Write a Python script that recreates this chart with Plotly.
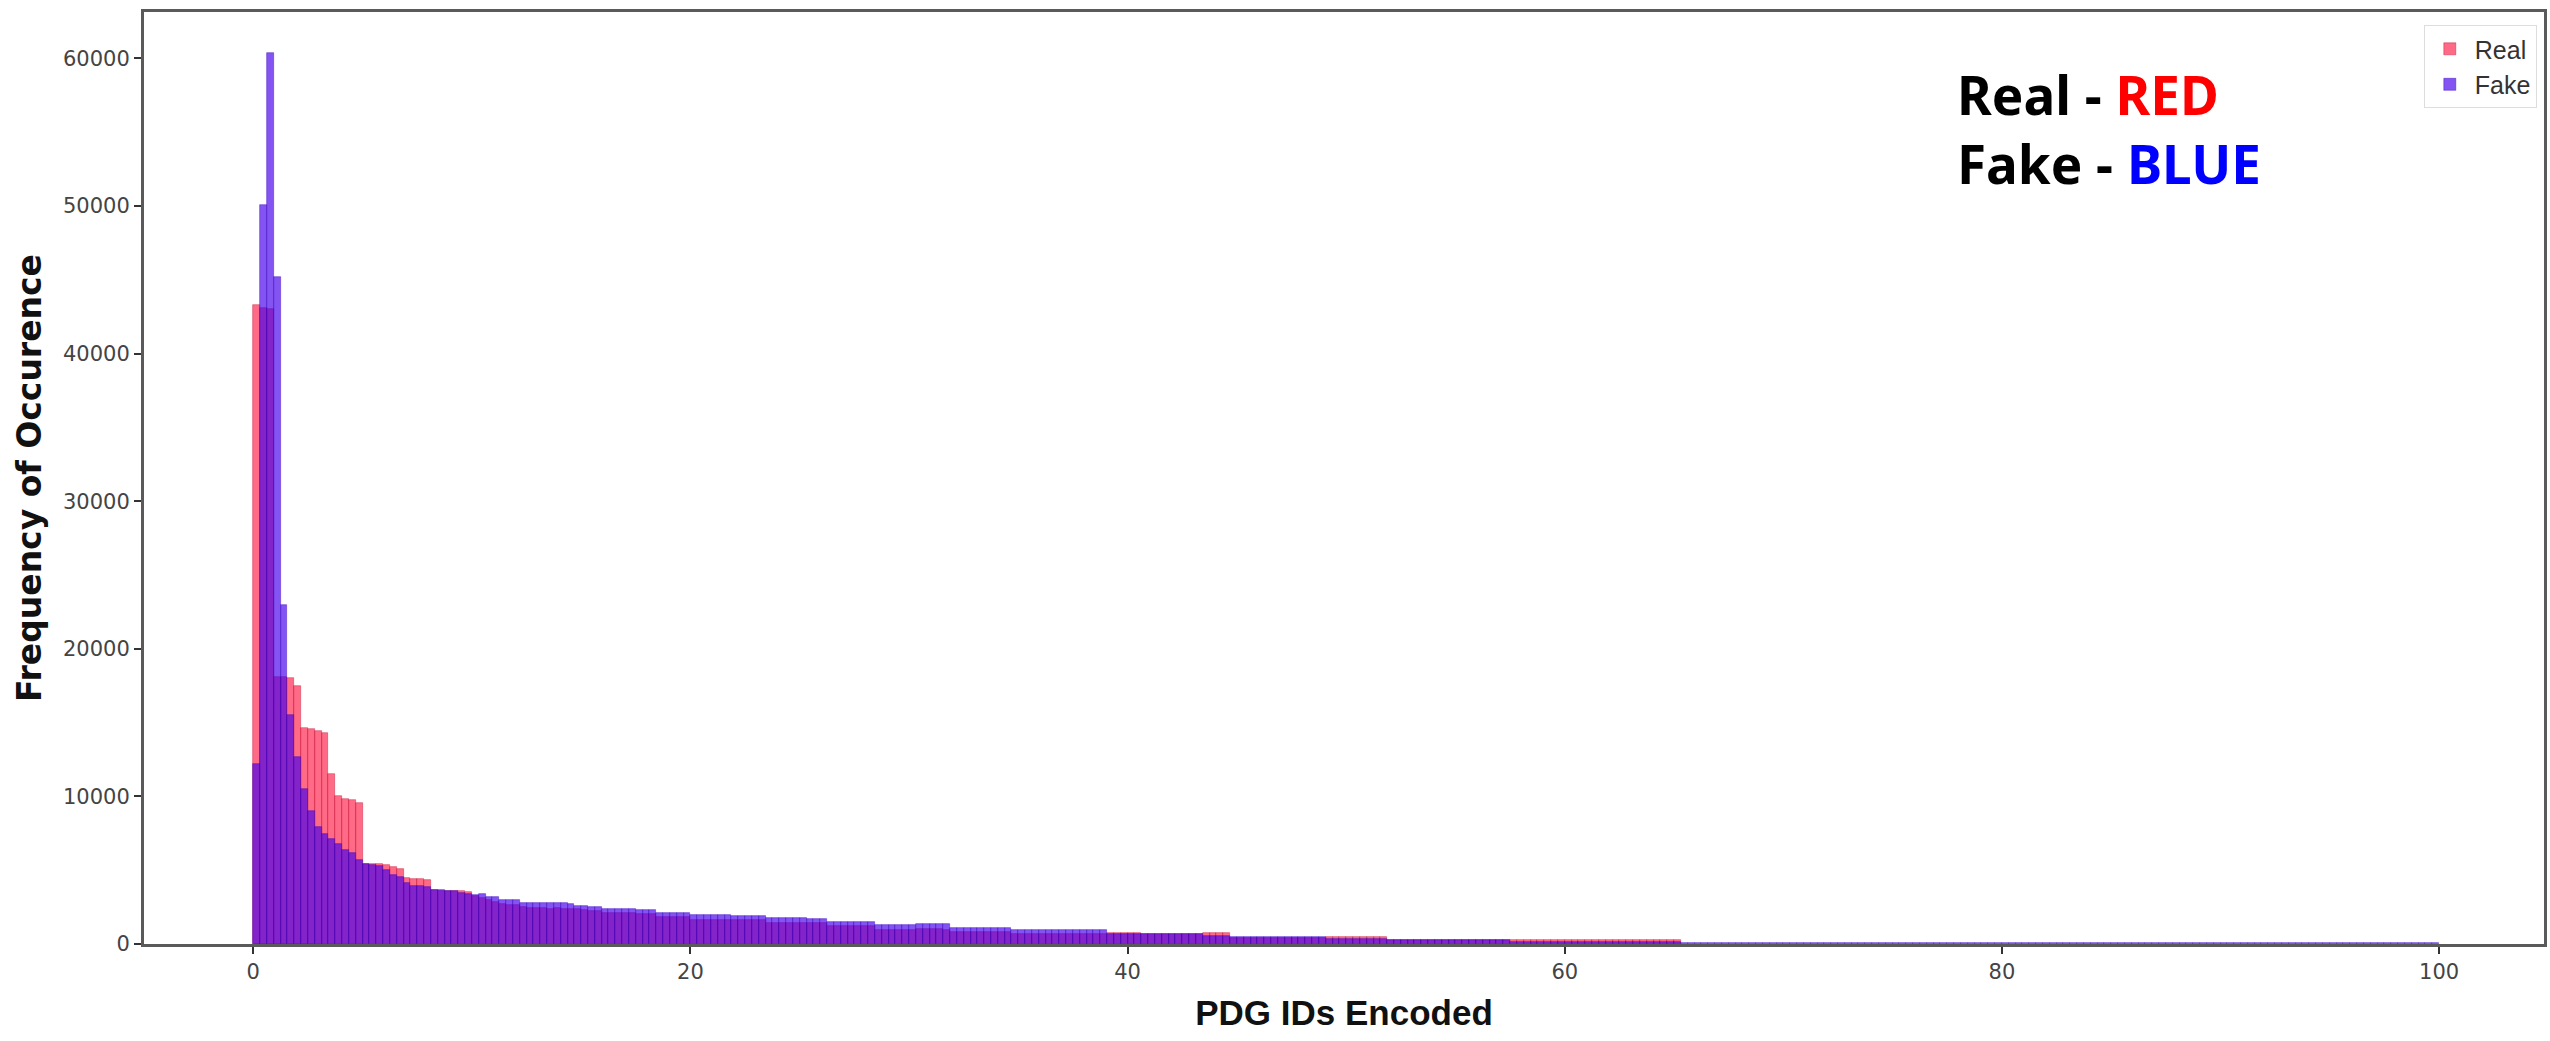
import plotly.graph_objects as go

# ---------------- data (histogram counts per bin, bins of width 0.3125 on 0..100) ----------------
bin_width = 0.3125
n_bins = 320

real_counts = [
    43300, 43100, 43000, 18100, 18100, 18050, 17450, 14660, 14600, 14450,
    14300, 11500, 10000, 9850, 9750, 9570, 5400, 5450, 5450, 5350,
    5200, 5100, 4450, 4400, 4400, 4350, 3650, 3620, 3600, 3580,
    3560, 3520, 3250, 3100, 2950, 2870, 2700, 2650, 2640, 2500,
    2450, 2420, 2420, 2400, 2420, 2400, 2380, 2350, 2320, 2260,
    2240, 2100, 2090, 2080, 2080, 2070, 2060, 2060, 2050, 1850,
    1850, 1840, 1840, 1830, 1640, 1640, 1630, 1630, 1620, 1620,
    1630, 1630, 1620, 1620, 1600, 1450, 1450, 1440, 1440, 1450,
    1440, 1430, 1430, 1420, 1240, 1230, 1230, 1230, 1220, 1220,
    1210, 960, 960, 950, 950, 950, 940, 990, 990, 990,
    990, 980, 835, 835, 830, 830, 830, 830, 825, 825,
    820, 680, 680, 680, 675, 675, 675, 670, 670, 670,
    670, 680, 680, 680, 675, 720, 720, 715, 715, 715,
    710, 710, 710, 705, 705, 705, 700, 700, 700, 720,
    720, 720, 720, 440, 440, 440, 440, 440, 440, 440,
    440, 440, 440, 440, 440, 440, 440, 500, 500, 500,
    500, 500, 500, 500, 500, 500, 260, 260, 260, 260,
    260, 260, 260, 260, 260, 260, 260, 260, 260, 260,
    260, 260, 260, 260, 270, 270, 270, 270, 270, 270,
    270, 270, 270, 270, 270, 270, 270, 270, 270, 270,
    270, 270, 270, 270, 270, 270, 270, 270, 270,
]

fake_counts = [
    12200, 50100, 60400, 45200, 23000, 15550, 12650, 10500, 9000, 7950,
    7450, 7100, 6750, 6350, 6150, 5720, 5450, 5350, 5300, 5000,
    4700, 4550, 4100, 3950, 3900, 3850, 3650, 3640, 3620, 3600,
    3480, 3420, 3300, 3380, 3200, 3170, 3000, 2990, 2980, 2800,
    2770, 2760, 2760, 2750, 2770, 2760, 2700, 2580, 2570, 2530,
    2540, 2360, 2350, 2350, 2340, 2340, 2330, 2330, 2320, 2130,
    2130, 2120, 2120, 2110, 1970, 1970, 1960, 1960, 1950, 1950,
    1910, 1910, 1900, 1900, 1900, 1740, 1740, 1740, 1730, 1730,
    1730, 1720, 1720, 1680, 1520, 1515, 1515, 1510, 1510, 1505,
    1500, 1290, 1290, 1285, 1285, 1280, 1280, 1355, 1355, 1350,
    1350, 1345, 1110, 1105, 1105, 1100, 1100, 1100, 1095, 1095,
    1090, 950, 950, 950, 945, 945, 945, 940, 940, 940,
    940, 950, 950, 945, 945, 690, 690, 690, 685, 685,
    685, 680, 680, 680, 675, 675, 675, 670, 670, 560,
    560, 560, 560, 460, 460, 460, 455, 455, 455, 455,
    450, 450, 450, 450, 445, 445, 445, 320, 320, 320,
    320, 315, 315, 315, 315, 315, 280, 280, 280, 280,
    280, 280, 275, 275, 275, 275, 275, 275, 270, 270,
    270, 270, 270, 270, 110, 110, 110, 110, 110, 110,
    110, 110, 110, 110, 110, 110, 110, 110, 110, 110,
    110, 110, 110, 110, 110, 110, 110, 110, 110, 70,
    70, 70, 70, 70, 70, 70, 70, 70, 70, 70,
    70, 70, 70, 70, 70, 70, 70, 70, 70, 70,
    70, 70, 70, 70, 70, 70, 70, 70, 70, 70,
    70, 70, 70, 70, 70, 70, 70, 70, 70, 70,
    70, 70, 70, 70, 70, 70, 70, 70, 70, 70,
    60, 60, 60, 60, 60, 60, 60, 60, 60, 60,
    60, 60, 60, 60, 60, 60, 60, 60, 60, 60,
    60, 60, 60, 60, 60, 60, 60, 60, 60, 60,
    60, 60, 60, 60, 60, 60, 60, 60, 60, 60,
    50, 50, 50, 50, 50, 50, 50, 50, 50, 50,
    50, 50, 50, 50, 50, 50, 50, 50, 50, 50,
]

x_tick_values = [0, 20, 40, 60, 80, 100]
y_tick_values = [0, 10000, 20000, 30000, 40000, 50000, 60000]
series_names = ["Real", "Fake"]

# bin centres
real_x = [(i + 0.5) * bin_width for i in range(len(real_counts))]
fake_x = [(i + 0.5) * bin_width for i in range(len(fake_counts))]

fig = go.Figure()
fig.add_trace(go.Bar(
    x=real_x, y=real_counts, width=bin_width, name=series_names[0],
    marker=dict(color="rgba(255,8,53,0.6)",
                line=dict(color="rgba(190,0,40,0.55)", width=0.7)),
))
fig.add_trace(go.Bar(
    x=fake_x, y=fake_counts, width=bin_width, name=series_names[1],
    marker=dict(color="rgba(70,0,235,0.67)",
                line=dict(color="rgba(55,0,190,0.6)", width=0.7)),
))

tick_font = dict(family="DejaVu Sans", size=21, color="#444")

note_text = ("<b>Real - <span style='color:#ff0000'>RED</span></b><br>"
             "<b>Fake - <span style='color:#0000ff'>BLUE</span></b>")

fig.update_layout(
    width=2550, height=1041,
    margin=dict(l=144, r=3, t=12, b=97),
    barmode="overlay", bargap=0,
    paper_bgcolor="white", plot_bgcolor="white",
    showlegend=True,
    legend=dict(x=0.997, y=0.986, xanchor="right", yanchor="top",
                bgcolor="white", bordercolor="#dddddd", borderwidth=1,
                itemwidth=40, tracegroupgap=4,
                font=dict(family="Liberation Sans Narrow, Liberation Sans", size=25, color="#333")),
    xaxis=dict(
        range=[-5.0, 104.8], tickvals=x_tick_values, tickfont=tick_font,
        ticks="outside", ticklen=7, tickwidth=2, tickcolor="#333",
        showline=True, linecolor="#5a5a5a", linewidth=3, mirror=True,
        showgrid=False, zeroline=False, layer="below traces",
        title=dict(text="PDG IDs Encoded", standoff=18,
                   font=dict(family="Liberation Sans", size=35, color="#111", weight="bold")),
    ),
    yaxis=dict(
        range=[0, 63150], tickvals=y_tick_values, tickformat="d", tickfont=tick_font,
        ticks="outside", ticklen=7, tickwidth=2, tickcolor="#333",
        showline=True, linecolor="#5a5a5a", linewidth=3, mirror=True,
        showgrid=False, zeroline=False,
        title=dict(text="Frequency of Occurence", standoff=12,
                   font=dict(family="DejaVu Sans", size=33, color="#111", weight="bold")),
    ),
    annotations=[
        dict(xref="paper", yref="paper", x=0.7545, y=0.8745, xanchor="left", yanchor="middle",
             showarrow=False, align="left", text=note_text,
             font=dict(family="Noto Sans", size=53, color="#000")),
    ],
)

fig.write_html("out.html")
